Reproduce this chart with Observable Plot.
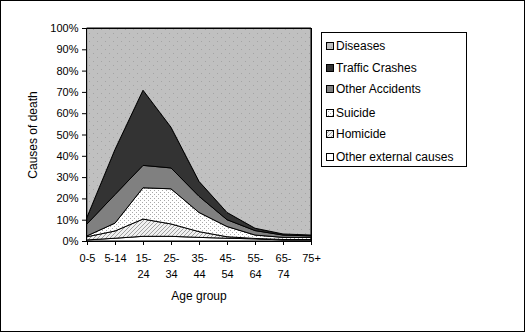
<!DOCTYPE html>
<html><head><meta charset="utf-8">
<script src="https://cdn.jsdelivr.net/npm/d3@7"></script>
<script src="https://cdn.jsdelivr.net/npm/@observablehq/plot@0.6"></script>
<style>
body{margin:0;background:#fff;}
#wrap{position:relative;width:525px;height:332px;background:#fff;font-family:"Liberation Sans",Arial,sans-serif;overflow:hidden}
#chart{position:absolute;left:0;top:0}
#border{position:absolute;left:0;top:0;width:525px;height:332px;box-sizing:border-box;border:1px solid #000;pointer-events:none}
#legend{position:absolute;left:321px;top:32px;width:146px;height:135px;box-sizing:border-box;border:1px solid #000;background:#fff}
.row{position:absolute;left:4px;height:16px;line-height:16px;font-size:12px;color:#000;white-space:nowrap;display:flex;align-items:center}
.row svg{margin-right:2px}
#defs{position:absolute;width:0;height:0}
</style>
</head><body>
<div id="wrap">
<svg id="defs" width="0" height="0"><defs>
<pattern id="pDis" width="8" height="8" patternUnits="userSpaceOnUse"><rect width="8" height="8" fill="#c0c0c0"/><rect x="1" y="1" width="1" height="1" fill="#a4a4a4"/><rect x="5" y="5" width="1" height="1" fill="#a4a4a4"/></pattern>
<pattern id="pSui" width="4" height="4" patternUnits="userSpaceOnUse"><rect width="4" height="4" fill="#fff"/><rect x="0" y="0" width="1" height="1" fill="#a8a8a8"/><rect x="2" y="2" width="1" height="1" fill="#a8a8a8"/></pattern>
<pattern id="pHom" width="4" height="4" patternUnits="userSpaceOnUse"><rect width="4" height="4" fill="#f0f0f0"/><path d="M-1,1 L1,-1 M0,4 L4,0 M3,5 L5,3" stroke="#a0a0a0" stroke-width="1"/></pattern>
</defs></svg>
<div id="chart"></div>
<div id="legend"></div>
<div id="border"></div>
</div>
<script>
// Data (percent of deaths per age group)
const ageGroups = ["0-5","5-14","15-24","25-34","35-44","45-54","55-64","65-74","75+"];
const tickTop = ["0-5","5-14","15-","25-","35-","45-","55-","65-","75+"];
const tickBottom = ["","","24","34","44","54","64","74",""];
const causes = ["Other external causes","Homicide","Suicide","Other Accidents","Traffic Crashes","Diseases"];
const otherExternal = [0.5,1.3,2.2,2.2,1.7,1.3,1.0,0.5,0.5];
const homicide = [1.5,3.4,8.1,5.8,2.7,0.7,0.2,0.2,0.2];
const suicide = [0.4,3.7,14.7,16.5,9.0,4.8,1.6,1.0,1.0];
const otherAccidents = [5.6,13.4,10.5,9.8,7.6,3.2,2.1,1.1,0.7];
const traffic = [3.2,21.2,35.3,19.1,7.0,3.4,1.1,0.5,0.4];
const diseases = [88.8,57.0,29.2,46.6,72.0,86.6,94.0,96.7,97.2];
const yTicks = [0,10,20,30,40,50,60,70,80,90,100];
const legendOrder = ["Diseases","Traffic Crashes","Other Accidents","Suicide","Homicide","Other external causes"];

const seriesValues = [otherExternal, homicide, suicide, otherAccidents, traffic, diseases];
const fills = ["#ffffff","url(#pHom)","url(#pSui)","#808080","#333333","url(#pDis)"];

const data = [];
causes.forEach((c, k) => ageGroups.forEach((a, i) => data.push({age: a, cause: c, value: seriesValues[k][i]})));

const topMap = new Map(ageGroups.map((a,i)=>[a,tickTop[i]]));
const botMap = new Map(ageGroups.map((a,i)=>[a,tickBottom[i]]));

const chart = Plot.plot({
  width: 525, height: 332,
  marginLeft: 86, marginRight: 214, marginTop: 28, marginBottom: 91,
  style: {fontFamily: '"Liberation Sans", Arial, sans-serif', fontSize: "11px", color: "black", background: "transparent"},
  x: {type: "point", domain: ageGroups, padding: 0},
  y: {domain: [0, 100]},
  color: {domain: causes, range: fills},
  marks: [
    Plot.areaY(data, Plot.stackY({x: "age", y: "value", z: "cause", fill: "cause", stroke: "black", strokeWidth: 1})),
    Plot.frame({stroke: "black"}),
    Plot.axisY({ticks: yTicks, tickFormat: d => d + "%", tickSize: 4, tickPadding: 4, label: null, fontSize: 11}),
    Plot.axisX({ticks: ageGroups, tickFormat: d => topMap.get(d), tickSize: 4, tickPadding: 9, label: null, fontSize: 11}),
    Plot.axisX({ticks: ageGroups, tickFormat: d => botMap.get(d), tickSize: 0, tickPadding: 29, label: null, fontSize: 11}),
    Plot.text(["Causes of death"], {frameAnchor: "left", dx: -53, rotate: -90, textAnchor: "middle", fontSize: 12, fill: "black"}),
    Plot.text(["Age group"], {frameAnchor: "bottom", dy: 58, fontSize: 12, fill: "black"})
  ]
});
document.getElementById("chart").appendChild(chart);

// Legend
const legend = document.getElementById("legend");
const rowTops = [5, 27, 48, 72, 93, 116];
legendOrder.forEach((name, i) => {
  const k = causes.indexOf(name);
  const row = document.createElement("div");
  row.className = "row";
  row.style.top = rowTops[i] + "px";
  row.innerHTML = `<svg width="8" height="8"><rect x="0.5" y="0.5" width="7" height="7" fill="${fills[k]}" stroke="#000"/></svg><span>${name}</span>`;
  legend.appendChild(row);
});
</script>
</body></html>
